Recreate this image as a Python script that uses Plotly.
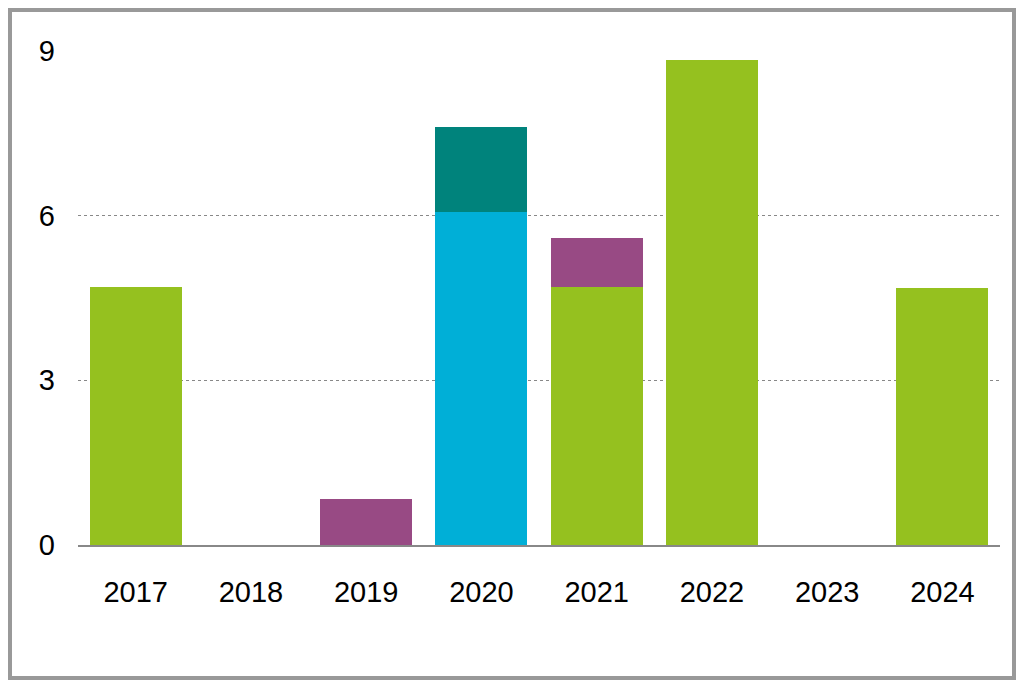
import plotly.graph_objects as go

years = ["2017","2018","2019","2020","2021","2022","2023","2024"]
green = [4.7, 0, 0, 0, 4.7, 8.82, 0, 4.68]
purple = [0, 0, 0.84, 0, 0.89, 0, 0, 0]
blue = [0, 0, 0, 6.07, 0, 0, 0, 0]
teal = [0, 0, 0, 1.53, 0, 0, 0, 0]

fig = go.Figure()
for name, vals, col in [("Green", green, "#95C11F"), ("Blue", blue, "#00AFD7"),
                        ("Purple", purple, "#984A84"), ("Teal", teal, "#00837C")]:
    fig.add_bar(x=years, y=vals, name=name, marker_color=col, marker_line_width=0)

W, H = 1008, 672
L, R, T, B = 70, 16, 42, 135
pw, ph = W - L - R, H - T - B
fig.update_layout(
    barmode="stack", bargap=0.2, showlegend=False,
    width=W, height=H, paper_bgcolor="white", plot_bgcolor="white",
    margin=dict(l=L, r=R, t=T, b=B),
    font=dict(family="Liberation Sans, Arial", size=29, color="black"),
    shapes=[dict(type="rect", xref="paper", yref="paper",
                 x0=-(L - 2) / pw, x1=1 + (R - 2) / pw,
                 y0=-(B - 2) / ph, y1=1 + (T - 2) / ph,
                 line=dict(color="#999999", width=4))],
)
fig.update_yaxes(range=[0, 9.01], tickvals=[0, 3, 6, 9], showgrid=True,
                 gridcolor="#888888", griddash="dot", gridwidth=1, zeroline=False,
                 ticks="", ticklabelstandoff=22)
fig.update_xaxes(showline=True, linecolor="#888888", linewidth=2, ticks="",
                 ticklabelstandoff=20)
fig.write_html("out.html")
